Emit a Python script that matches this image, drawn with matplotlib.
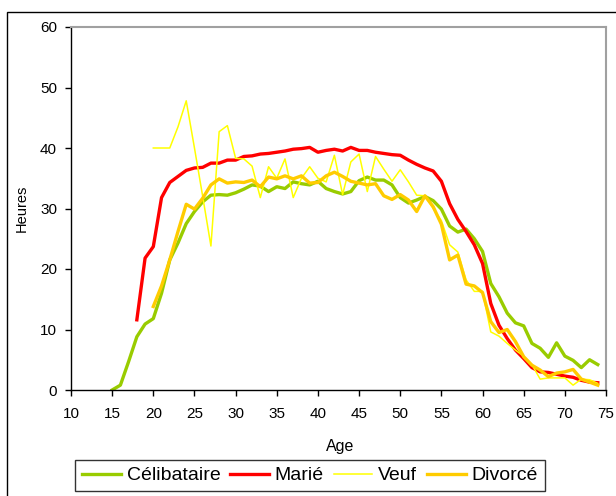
import matplotlib
matplotlib.use("Agg")
import matplotlib.pyplot as plt
from matplotlib.patches import Rectangle

plt.rcParams['font.family'] = ['Liberation Sans', 'DejaVu Sans']

ages_celib = list(range(15, 75))
celibataire = [0, 0.8, 4.7, 8.8, 10.9, 11.8, 16, 21.5, 24.3, 27.5,
               29.5, 31.1, 32.2, 32.3, 32.2, 32.6, 33.2, 33.9, 33.7, 32.8,
               33.6, 33.3, 34.4, 34.1, 33.9, 34.5, 33.3, 32.8, 32.4, 32.8,
               34.6, 35.2, 34.7, 34.7, 33.9, 31.8, 30.9, 31.4, 32, 31.3,
               29.9, 27.1, 26.1, 26.6, 25, 22.9, 17.6, 15.4, 12.7, 11.1,
               10.6, 7.7, 6.9, 5.4, 7.8, 5.6, 4.9, 3.7, 5, 4.2]

ages_marie = list(range(18, 75))
marie = [11.6, 21.8, 23.7, 31.8, 34.3, 35.3, 36.3, 36.7, 36.8, 37.5,
         37.5, 38, 38, 38.6, 38.7, 39, 39.1, 39.3, 39.5, 39.8,
         39.9, 40.1, 39.3, 39.6, 39.8, 39.5, 40.1, 39.6, 39.6, 39.3,
         39.1, 38.9, 38.8, 38, 37.3, 36.7, 36.2, 34.5, 30.8, 28.2,
         26.2, 24, 20.9, 14.3, 10.7, 8.5, 6.6, 5.2, 3.7, 3,
         2.9, 2.6, 2.3, 2.1, 1.6, 1.3, 1.2]

ages_veuf = list(range(20, 75))
veuf = [40, 40, 40, 43.5, 47.8, 40, 32, 23.8, 42.7, 43.7,
        38.3, 38.2, 37, 31.8, 36.9, 35, 38.2, 31.8, 35, 36.9,
        35, 34.4, 38.8, 32.3, 37.7, 39, 32.8, 38.6, 36.5, 34.5,
        36.4, 34.4, 32.2, 32.1, 30, 28, 24, 22.8, 18.2, 16.3,
        16.3, 9.6, 8.9, 7.7, 6.6, 5.6, 4.2, 1.8, 2, 2,
        2, 0.8, 1.8, 1.7, 1.1]

ages_divorce = list(range(20, 75))
divorce = [13.8, 17.2, 21.5, 26.2, 30.7, 29.9, 31.7, 33.9, 34.9, 34.2,
           34.4, 34.3, 34.7, 33.6, 35.2, 34.9, 35.4, 34.9, 35.4, 34.2,
           34.3, 35.4, 36, 35.3, 34.5, 34.2, 33.9, 34.1, 32.1, 31.5,
           32.3, 31.4, 29.5, 32.1, 30.3, 27.4, 21.5, 22.3, 17.5, 17.2,
           16.1, 11.3, 9.5, 10, 8, 5.5, 4.1, 3.3, 2.2, 2.8,
           3, 3.4, 1.8, 1.3, 0.8]

W, H = 616, 496
fig = plt.figure(figsize=(W / 100, H / 100), dpi=100)
ax = fig.add_axes([71 / W, 1 - 390 / H, 535 / W, 363 / H])

# outer chart border (cropped on the right and bottom)
fig.patches.append(Rectangle((7 / W, -0.1), 1.2, 1.1 - 12 / H, transform=fig.transFigure,
                             fill=False, edgecolor='black', linewidth=1.0))

ax.plot(ages_celib, celibataire, color='#99CC00', lw=2.4, label='Célibataire')
ax.plot(ages_marie, marie, color='#FF0000', lw=2.4, label='Marié')
ax.plot(ages_veuf, veuf, color='#FFFF00', lw=1.1, label='Veuf')
ax.plot(ages_divorce, divorce, color='#FFCC00', lw=2.4, label='Divorcé')

ax.set_xlim(10, 75)
ax.set_ylim(0, 60)
ax.set_xticks(range(10, 76, 5))
ax.set_yticks(range(0, 61, 10))
ax.tick_params(axis='both', direction='out', length=4, width=1, labelsize=11)
ax.tick_params(axis='x', pad=8)
ax.tick_params(axis='y', pad=6)

for s in ['top', 'right']:
    ax.spines[s].set_color('#A0A0A0')
    ax.spines[s].set_linewidth(1.5)
for s in ['left', 'bottom']:
    ax.spines[s].set_color('black')
    ax.spines[s].set_linewidth(1.0)

fig.text(340 / W, 1 - 447 / H, 'Age', ha='center', va='center', fontsize=11.5)
fig.text(22 / W, 1 - 208 / H, 'Heures', ha='center', va='center', rotation=90, fontsize=10.5)

leg = fig.legend(loc='upper left', bbox_to_anchor=(75 / W, 1 - 460 / H), ncol=4,
                 fontsize=14, frameon=True, fancybox=False, handlelength=2.0,
                 handletextpad=0.3, columnspacing=0.5, borderpad=0.35, borderaxespad=0)
leg.get_frame().set_edgecolor('black')
leg.get_frame().set_linewidth(1.0)

fig.savefig('out.png', dpi=100)
